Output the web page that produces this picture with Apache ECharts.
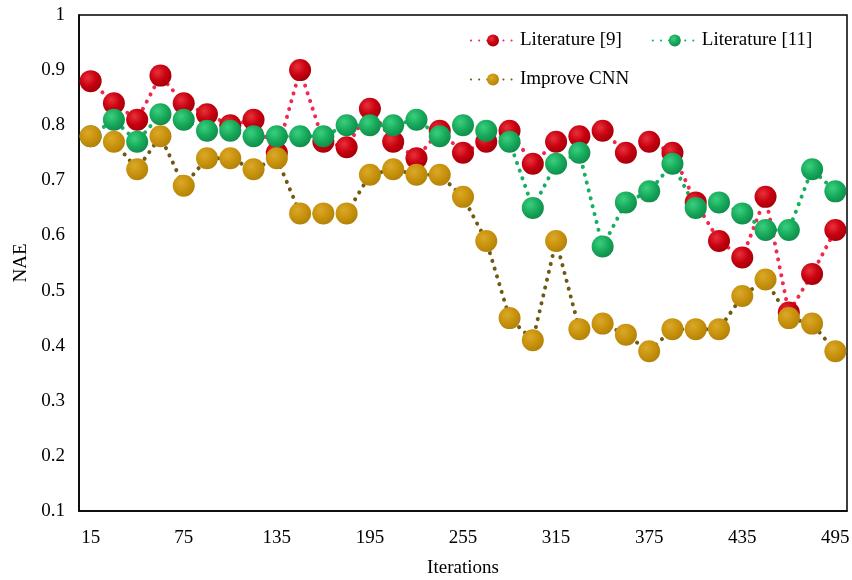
<!DOCTYPE html>
<html>
<head>
<meta charset="utf-8">
<script src="https://cdn.jsdelivr.net/npm/echarts@6/dist/echarts.min.js"></script>
<style>html,body{margin:0;padding:0;background:#fff;}#c{width:852px;height:580px;}</style>
</head>
<body>
<div id="c"></div>
<script>
const iterations = [15,30,45,60,75,90,105,120,135,150,165,180,195,210,225,240,255,270,285,300,315,330,345,360,375,390,405,420,435,450,465,480,495];
const lit9 = [0.88,0.84,0.81,0.89,0.84,0.82,0.80,0.81,0.75,0.90,0.77,0.76,0.83,0.77,0.74,0.79,0.75,0.77,0.79,0.73,0.77,0.78,0.79,0.75,0.77,0.75,0.66,0.59,0.56,0.67,0.46,0.53,0.61];
const lit11 = [0.78,0.81,0.77,0.82,0.81,0.79,0.79,0.78,0.78,0.78,0.78,0.80,0.80,0.80,0.81,0.78,0.80,0.79,0.77,0.65,0.73,0.75,0.58,0.66,0.68,0.73,0.65,0.66,0.64,0.61,0.61,0.72,0.68];
const improveCNN = [0.78,0.77,0.72,0.78,0.69,0.74,0.74,0.72,0.74,0.64,0.64,0.64,0.71,0.72,0.71,0.71,0.67,0.59,0.45,0.41,0.59,0.43,0.44,0.42,0.39,0.43,0.43,0.43,0.49,0.52,0.45,0.44,0.39];
const yTicks = ['0.1','0.2','0.3','0.4','0.5','0.6','0.7','0.8','0.9','1'];

const font = '"Liberation Serif","Times New Roman",serif';
function grad(light, mid, dark){
  return {type:'radial', x:0.38, y:0.35, r:0.7, colorStops:[
    {offset:0, color:light},{offset:0.55, color:mid},{offset:1, color:dark}]};
}
function mkSeries(name, data, lineColor, markerFill){
  return {
    name: name, type:'line', data: data,
    symbol:'circle', symbolSize:22, showSymbol:true, showAllSymbol:true,
    lineStyle:{color:lineColor, width:4, type:[0.1,8], cap:'round'},
    itemStyle:{color:markerFill, borderWidth:0},
    emphasis:{disabled:true}
  };
}
const chart = echarts.init(document.getElementById('c'), null, {renderer:'canvas'});
chart.setOption({
  animation:false,
  backgroundColor:'#fff',
  grid:{left:79, right:5, top:15, bottom:69, outerBoundsMode:'none', containLabel:false,
        show:true, borderColor:'#000', borderWidth:1.5, backgroundColor:'transparent'},
  legend:[
    {data:['Literature [9]','Literature [11]'], left:465, top:26, itemWidth:44, itemHeight:15, itemGap:30,
     textStyle:{fontFamily:font, fontSize:19, color:'#000'}},
    {data:['Improve CNN'], left:465, top:65, itemWidth:44, itemHeight:15,
     textStyle:{fontFamily:font, fontSize:19, color:'#000'}}
  ],
  xAxis:{
    type:'category', data: iterations, boundaryGap:true,
    name:'Iterations', nameLocation:'middle', nameGap:48,
    nameTextStyle:{fontFamily:font, fontSize:19, color:'#000'},
    axisLine:{lineStyle:{color:'#000', width:1.5}},
    axisTick:{show:false},
    axisLabel:{interval:3, margin:18, fontFamily:font, fontSize:19, color:'#000'},
    splitLine:{show:false}
  },
  yAxis:{
    type:'value', min:0.1, max:1, interval:0.1,
    name:'NAE', nameLocation:'middle', nameGap:45, nameRotate:90,
    nameTextStyle:{fontFamily:font, fontSize:19, color:'#000'},
    axisLine:{show:true, lineStyle:{color:'#000', width:1.5}},
    axisTick:{show:false},
    axisLabel:{margin:14, fontFamily:font, fontSize:19, color:'#000',
      formatter:function(v){ const i=Math.round(v*10)-1; return yTicks[i]!==undefined?yTicks[i]:''; }},
    splitLine:{show:false}
  },
  series:[
    mkSeries('Literature [9]', lit9, '#f2284f', grad('#e8323a','#c80010','#a00008')),
    mkSeries('Literature [11]', lit11, '#14b060', grad('#3ad07e','#18aa5c','#0e8a48')),
    mkSeries('Improve CNN', improveCNN, '#6e5a14', grad('#dba82a','#c8920c','#b08008'))
  ]
});
</script>
</body>
</html>
